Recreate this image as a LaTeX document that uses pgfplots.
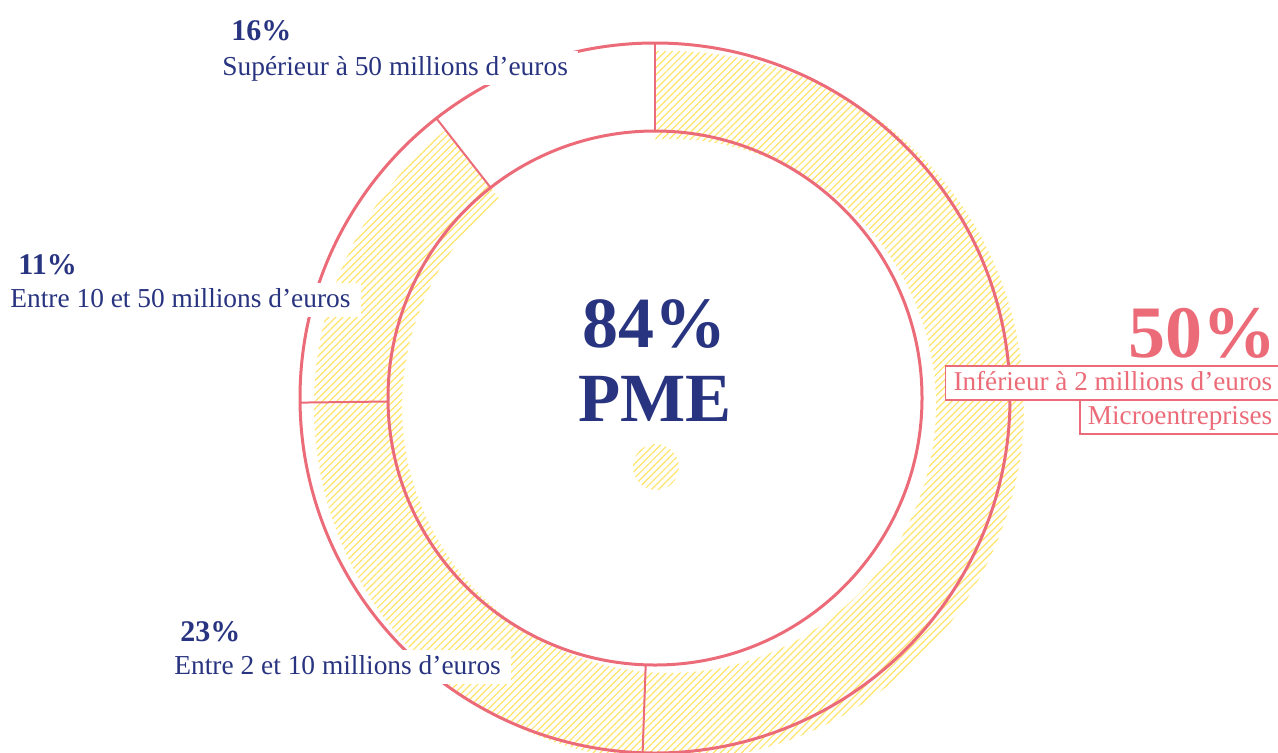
\documentclass[border=0pt]{standalone}
\usepackage{fontspec}
\setmainfont{Liberation Serif}
\usepackage{pgfplots}
\pgfplotsset{compat=1.18}
\usetikzlibrary{patterns.meta}
\definecolor{navy}{RGB}{40,52,128}
\definecolor{rosered}{RGB}{236,107,120}
\definecolor{hatch}{RGB}{255,228,105}
\tikzset{
  lab/.style={anchor=base west, fill=white, inner xsep=5pt, inner ysep=2pt, text height=10pt, text depth=3pt, text=navy, font={\fontsize{13.7}{16}\selectfont}},
  pct/.style={anchor=base west, inner sep=0pt, text=navy, font={\fontsize{15}{18}\selectfont\bfseries}},
  pbox/.style={anchor=base east, fill=white, draw=rosered, line width=0.75pt, inner xsep=4pt, inner ysep=2pt, text height=10pt, text depth=3pt, text=rosered, font={\fontsize{13.6}{16}\selectfont}},
  hatchfill/.style={pattern={Lines[angle=45,distance=2.5pt,line width=0.6pt]}, pattern color=hatch}
}
\begin{document}
\begin{tikzpicture}
\begin{axis}[name=ax, x=0.5pt, y=0.5pt, xmin=0, xmax=1278, ymin=0, ymax=752, hide axis, clip=true]
% hatched PME part (84%), slightly offset
\fill[hatchfill]
  (axis cs:655,700.7) arc[start angle=92.26, end angle=-231.02, radius=177.5pt]
  -- (axis cs:499.8,552.6) arc[start angle=-230.68, end angle=93.0, radius=133.5pt] -- cycle;
\fill[hatchfill] (axis cs:656,285) circle[radius=11.5pt];
% ring
\draw[rosered, line width=1.5pt] (axis cs:655,354) circle[radius=177.5pt];
\draw[rosered, line width=1.5pt] (axis cs:655,354) circle[radius=133.5pt];
% segment boundaries (50%, 23%, 11%, 16%)
\addplot[rosered, line width=1pt] coordinates {(655,709) (655,621)};
\addplot[rosered, line width=1pt] coordinates {(642.6,-0.8) (645.7,87.2)};
\addplot[rosered, line width=1pt] coordinates {(300.0,349.4) (388.0,350.5)};
\addplot[rosered, line width=1pt] coordinates {(436.4,633.7) (490.6,564.4)};
% labels
\node[pct] at (axis cs:231,712) {16\%};
\node[lab] at (axis cs:212,677) {Supérieur à 50 millions d’euros};
\node[pct] at (axis cs:18,478) {11\%};
\node[lab] at (axis cs:0,445) {Entre 10 et 50 millions d’euros};
\node[pct] at (axis cs:180,111) {23\%};
\node[lab] at (axis cs:164,78) {Entre 2 et 10 millions d’euros};
\node[anchor=base east, inner sep=0pt, text=rosered, font={\fontsize{37}{40}\selectfont\bfseries}] at (axis cs:1277,395) {50\%};
\node[pbox] at (axis cs:1281,362) {Inférieur à 2 millions d’euros};
\node[pbox] at (axis cs:1281,328) {Microentreprises};
\node[anchor=base, inner sep=0pt, text=navy, font={\fontsize{36}{40}\selectfont\bfseries}] at (axis cs:654,405) {84\%};
\node[anchor=base, inner sep=0pt, text=navy, font={\fontsize{34.5}{40}\selectfont\bfseries}] at (axis cs:655,331) {PME};
\end{axis}
\pgfresetboundingbox
\path[use as bounding box] (ax.south west) rectangle (ax.north east);
\end{tikzpicture}
\end{document}
